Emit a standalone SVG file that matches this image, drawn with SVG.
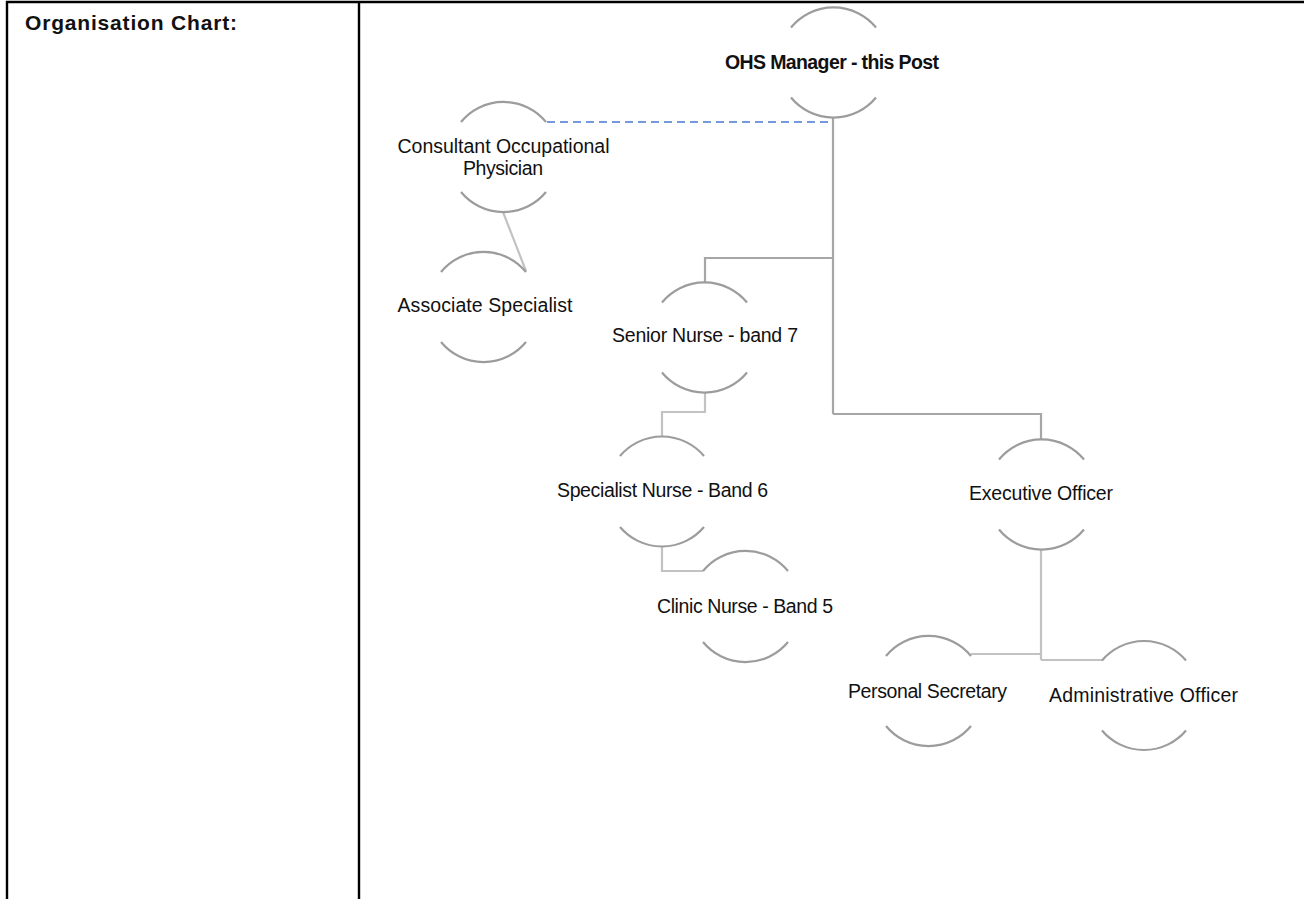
<svg xmlns="http://www.w3.org/2000/svg" width="1304" height="899" viewBox="0 0 1304 899">
<style>
.arc{fill:none;stroke:#9c9c9c;stroke-width:2.2}
.lbl{font-family:"Liberation Sans",Arial,sans-serif;font-size:19.5px;fill:#111;text-anchor:middle}
.b{font-weight:bold}
.h{font-size:21px;text-anchor:start}
.c1{fill:none;stroke:#a6a6a6;stroke-width:2.2}
.c2{fill:none;stroke:#c2c2c2;stroke-width:2.2}
.dash{fill:none;stroke:#4a78d0;stroke-width:1.6;stroke-dasharray:8 5}
.frame{stroke:#000;stroke-width:2.4;fill:none}
</style>
<rect width="1304" height="899" fill="#fff"/>
<g id="table">
<line class="frame" x1="6" y1="2" x2="1304" y2="2"/>
<line class="frame" x1="7" y1="1" x2="7" y2="899"/>
<line class="frame" x1="359" y1="1" x2="359" y2="899"/>
<text class="lbl b h" x="25" y="30" textLength="212">Organisation Chart:</text>
</g>
<g id="connectors">
<path class="c1" d="M833 118 V414"/>
<path class="c1" d="M833 258 H705 V282"/>
<path class="c1" d="M833 414 H1041 V439"/>
<path class="c2" d="M705 393 V412 H662 V436"/>
<path class="c2" d="M662 547 V571 H703"/>
<path class="c2" d="M1041 550 V660"/>
<path class="c2" d="M1041 654 H971"/>
<path class="c2" d="M1041 660 H1102"/>
<path class="c2" d="M503 212 L526 271"/>
<path class="dash" d="M547 122 H833"/>
</g>
<g id="ohs">
<path class="arc" d="M791 27.5 A55 55 0 0 1 876 27.5 M791 97.5 A55 55 0 0 0 876 97.5"/>
<text class="lbl b" x="832" y="69" textLength="214">OHS Manager - this Post</text>
</g>
<g id="consultant">
<path class="arc" d="M461 122 A55 55 0 0 1 546 122 M461 192 A55 55 0 0 0 546 192"/>
<text class="lbl" x="503.5" y="153" textLength="212">Consultant Occupational</text>
<text class="lbl" x="503" y="175" textLength="80">Physician</text>
</g>
<g id="associate">
<path class="arc" d="M441 272 A55 55 0 0 1 526 272 M441 342 A55 55 0 0 0 526 342"/>
<text class="lbl" x="485" y="312" textLength="175">Associate Specialist</text>
</g>
<g id="senior">
<path class="arc" d="M662 302.5 A55 55 0 0 1 747 302.5 M662 372.5 A55 55 0 0 0 747 372.5"/>
<text class="lbl" x="705" y="342" textLength="186">Senior Nurse - band 7</text>
</g>
<g id="specialist">
<path class="arc" d="M620 456 A55 55 0 0 1 704 456 M620 527 A55 55 0 0 0 704 527"/>
<text class="lbl" x="662.5" y="497" textLength="211">Specialist Nurse - Band 6</text>
</g>
<g id="clinic">
<path class="arc" d="M703 571 A55 55 0 0 1 788 571 M703 642 A55 55 0 0 0 788 642"/>
<text class="lbl" x="745" y="613" textLength="176">Clinic Nurse - Band 5</text>
</g>
<g id="executive">
<path class="arc" d="M999 459.5 A55 55 0 0 1 1084 459.5 M999 529.5 A55 55 0 0 0 1084 529.5"/>
<text class="lbl" x="1041" y="500" textLength="144">Executive Officer</text>
</g>
<g id="personal">
<path class="arc" d="M886 656 A55 55 0 0 1 971 656 M886 726 A55 55 0 0 0 971 726"/>
<text class="lbl" x="927.5" y="698" textLength="159">Personal Secretary</text>
</g>
<g id="admin">
<path class="arc" d="M1102 660.5 A55 55 0 0 1 1186 660.5 M1102 730.5 A55 55 0 0 0 1186 730.5"/>
<text class="lbl" x="1143.5" y="702" textLength="189">Administrative Officer</text>
</g>
</svg>
